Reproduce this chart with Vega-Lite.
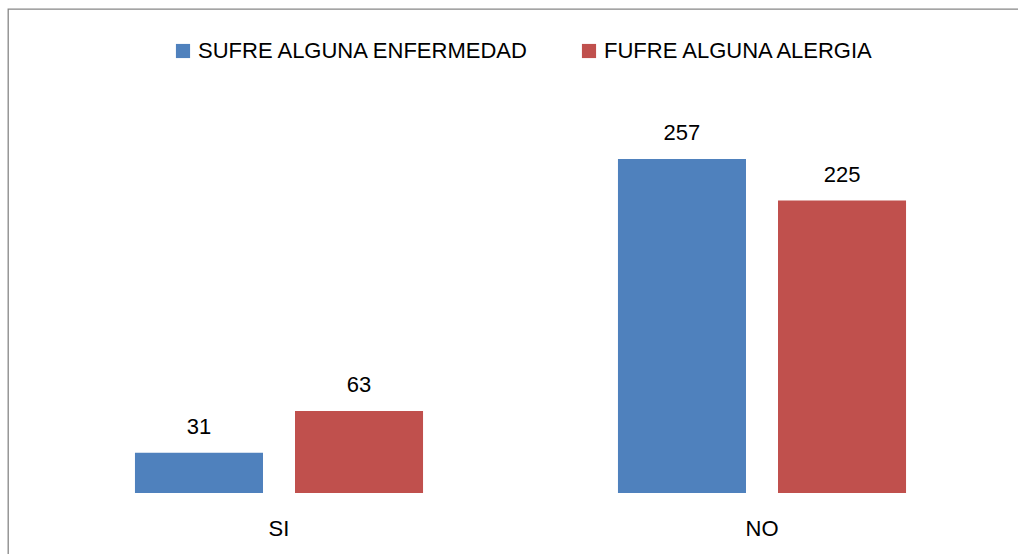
{
  "$schema": "https://vega.github.io/schema/vega-lite/v6.json",
  "width": 1014,
  "height": 549,
  "autosize": {"type": "none"},
  "padding": {"left": 8, "top": 9, "right": -4, "bottom": -4},
  "background": "white",
  "config": {
    "font": "Liberation Sans"
  },
  "view": {"stroke": "#868686", "strokeWidth": 1.3},
  "data": {
    "values": [
      {"cat": "SI", "serie": "SUFRE ALGUNA ENFERMEDAD", "valor": 31},
      {"cat": "SI", "serie": "FUFRE ALGUNA ALERGIA", "valor": 63},
      {"cat": "NO", "serie": "SUFRE ALGUNA ENFERMEDAD", "valor": 257},
      {"cat": "NO", "serie": "FUFRE ALGUNA ALERGIA", "valor": 225}
    ]
  },
  "encoding": {
    "x": {
      "field": "cat", "type": "nominal", "sort": ["SI", "NO"],
      "scale": {"range": [29.5, 995.5], "paddingInner": 0, "paddingOuter": 0},
      "axis": {"title": null, "domain": false, "ticks": false, "tickSize": 0, "labelAngle": 0, "labelFontSize": 22, "labelColor": "black", "labelBaseline": "middle", "labelPadding": 35, "offset": -65}
    },
    "xOffset": {
      "field": "serie", "type": "nominal", "sort": ["SUFRE ALGUNA ENFERMEDAD", "FUFRE ALGUNA ALERGIA"],
      "scale": {"paddingInner": 0.2, "paddingOuter": 0.609}
    },
    "y": {
      "field": "valor", "type": "quantitative",
      "scale": {"domain": [0, 257], "range": [484, 150], "nice": false, "zero": true},
      "axis": null
    }
  },
  "layer": [
    {
      "mark": {"type": "bar"},
      "encoding": {
        "color": {
          "field": "serie", "type": "nominal", "sort": ["SUFRE ALGUNA ENFERMEDAD", "FUFRE ALGUNA ALERGIA"],
          "scale": {"range": ["#4F81BD", "#C0504D"]},
          "legend": {"orient": "none", "legendX": 164, "legendY": 31, "direction": "horizontal", "title": null, "symbolType": "square", "symbolSize": 200, "symbolStrokeWidth": 0, "labelFontSize": 22, "labelColor": "black", "labelLimit": 0, "columnPadding": 48, "labelOffset": 4}
        }
      }
    },
    {
      "mark": {"type": "text", "dy": -26, "fontSize": 22, "baseline": "middle", "color": "black"},
      "encoding": {"text": {"field": "valor", "type": "quantitative"}}
    },
    {
      "mark": {"type": "rule", "color": "#868686", "strokeWidth": 2, "strokeDash": [0, 2, 993, 40]},
      "encoding": {"y": {"datum": 0}}
    }
  ]
}
